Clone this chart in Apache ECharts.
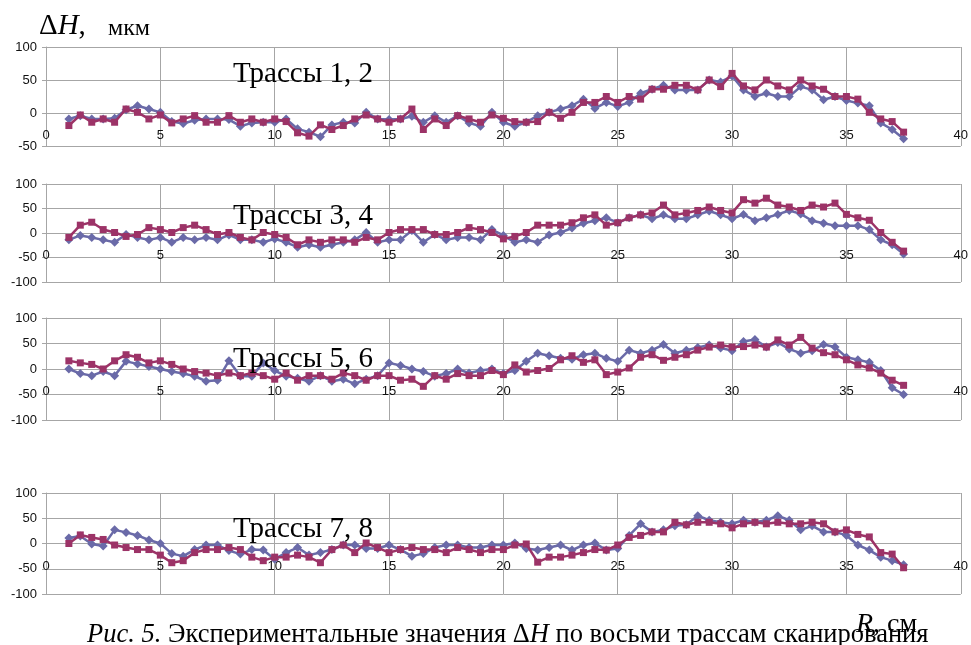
<!DOCTYPE html>
<html>
<head>
<meta charset="utf-8">
<script src="https://cdn.jsdelivr.net/npm/echarts@6/dist/echarts.min.js"></script>
<style>
html,body{margin:0;padding:0;background:#fff;}
#c{width:971px;height:645px;}
</style>
</head>
<body>
<div id="c"></div>
<script>
// Positions along the scan track, R (cm)
const R = [1,1.5,2,2.5,3,3.5,4,4.5,5,5.5,6,6.5,7,7.5,8,8.5,9,9.5,10,10.5,
  11,11.5,12,12.5,13,13.5,14,14.5,15,15.5,16,16.5,17,17.5,18,18.5,19,19.5,
  20,20.5,21,21.5,22,22.5,23,23.5,24,24.5,25,25.5,26,26.5,27,27.5,28,28.5,
  29,29.5,30,30.5,31,31.5,32,32.5,33,33.5,34,34.5,35,35.5,36,36.5,37,37.5];

// ΔH (мкм) for each track
const track1 = [-9,-4,-9,-9,-8,5,11,6,1,-13,-16,-11,-9,-9,-10,-20,-15,-14,-14,-9,-24,-29,-36,-18,-14,-15,1,-9,-10,-9,-5,-14,-4,-14,-4,-15,-20,1,
  -14,-20,-14,-4,1,6,11,21,7,16,10,16,30,36,42,35,35,35,50,47,56,35,25,30,25,25,40,35,20,25,19,15,11,-15,-25,-39];
const track2 = [-19,-3,-14,-9,-14,6,1,-9,-3,-15,-9,-4,-14,-14,-4,-14,-9,-14,-9,-13,-30,-35,-18,-25,-19,-9,-3,-9,-14,-9,6,-25,-9,-19,-4,-9,-14,-3,
  -8,-13,-14,-13,1,-8,1,16,16,25,16,25,21,36,36,42,42,35,50,40,60,41,35,50,41,35,50,41,36,25,25,21,1,-9,-13,-29];
const track3 = [-14,-5,-9,-14,-19,-3,-9,-14,-9,-19,-9,-14,-9,-14,-4,-14,-14,-19,-12,-19,-29,-24,-29,-24,-19,-14,1,-19,-14,-14,5,-19,-3,-14,-9,-9,-14,7,
  -5,-19,-14,-19,-4,1,10,20,25,31,21,31,37,29,37,29,29,37,45,37,29,38,25,31,38,46,39,25,20,15,15,15,7,-14,-24,-43];
const track4 = [-9,16,22,7,1,-7,-3,11,7,1,11,16,7,-3,1,-9,-14,1,-3,-9,-24,-14,-19,-14,-14,-19,-9,-14,1,7,7,7,-3,-3,1,11,7,1,
  -12,-7,1,16,16,16,21,31,37,16,21,31,37,41,57,37,41,46,53,46,41,68,61,71,57,53,46,57,53,61,38,31,26,1,-19,-37];
const track5 = [0,-9,-13,-5,-13,15,10,5,0,-5,-9,-14,-24,-22,16,-14,-14,12,-3,-14,-18,-24,-13,-24,-20,-29,-20,-13,12,7,0,-5,-14,-9,0,-8,-3,0,
  -9,-3,15,31,26,21,19,28,31,21,15,37,31,37,48,31,37,42,47,41,36,54,58,43,52,39,31,36,48,43,23,18,13,-3,-37,-50];
const track6 = [16,12,9,0,16,28,23,12,16,9,0,-5,-8,-13,-8,-13,-8,-13,-20,-8,-22,-13,-13,-20,-8,-13,-22,-13,-13,-22,-20,-34,-13,-20,-9,-13,-13,-3,
  -11,8,-6,-3,1,18,26,13,18,-11,-6,2,23,28,17,23,28,37,43,47,43,44,47,43,57,47,62,41,32,28,18,8,2,-8,-22,-32];
const track7 = [11,15,-1,-5,27,22,16,7,0,-20,-25,-12,-3,-3,-14,-21,-12,-13,-31,-18,-8,-23,-18,-12,-3,-3,-10,-10,-3,-12,-25,-20,-8,-3,-3,-8,-8,-3,
  -3,1,-10,-13,-8,-3,-13,-3,1,-13,-10,16,39,23,27,35,37,55,46,42,39,46,42,46,55,46,27,35,23,23,16,-3,-13,-27,-34,-42];
const track8 = [0,17,12,8,-3,-8,-12,-12,-23,-38,-34,-18,-12,-12,-8,-12,-27,-34,-27,-27,-23,-27,-38,-12,-3,-18,1,-8,-18,-12,-8,-12,-12,-18,-8,-12,-18,-12,
  -12,-3,-1,-37,-27,-27,-23,-18,-12,-13,-3,12,16,23,23,42,37,42,42,39,31,39,42,39,42,39,39,42,39,23,27,18,13,-18,-21,-48];

const panelTitles = ['Трассы 1, 2','Трассы 3, 4','Трассы 5, 6','Трассы 7, 8'];
const panelTracks = [[track1,track2],[track3,track4],[track5,track6],[track7,track8]];
const yMins = [-50,-100,-100,-100];
const yMaxs = [100,100,100,100];

const gridTops = [47,184,318,493];
const gridHeights = [99,98,102,101];
const titleTops = [55,197,340,510];

const BLUE = '#6a6aa8';
const MAG = '#9c3367';
const GRID = '#a6a6a6';
const serif = 'Liberation Serif';
const sans = 'Liberation Sans';

const grids = [], xAxes = [], yAxes = [], series = [], titles = [];
for (let p = 0; p < 4; p++) {
  grids.push({left:46, right:9, top:gridTops[p], height:gridHeights[p], containLabel:false});
  // x axis crosses the value axis at zero (Excel style)
  const zeroUp = gridHeights[p] * (0 - yMins[p]) / (yMaxs[p] - yMins[p]);
  xAxes.push({
    type:'value', gridIndex:p, min:0, max:40, interval:5,
    position:'bottom', offset:-zeroUp,
    axisLine:{show:true, onZero:false, lineStyle:{color:GRID, width:1}},
    axisTick:{show:false},
    axisLabel:{fontFamily:sans, fontSize:13, color:'#111', margin:16},
    splitLine:{show:true, lineStyle:{color:GRID, width:1}}
  });
  yAxes.push({
    type:'value', gridIndex:p, min:yMins[p], max:yMaxs[p], interval:50,
    axisLine:{show:true, onZero:false, lineStyle:{color:GRID, width:1}},
    axisTick:{show:true, length:4, lineStyle:{color:GRID}},
    axisLabel:{fontFamily:sans, fontSize:13, color:'#111', margin:9},
    splitLine:{show:true, lineStyle:{color:GRID, width:1}}
  });
  const [a, b] = panelTracks[p];
  series.push({
    type:'line', xAxisIndex:p, yAxisIndex:p,
    data:R.map((r,i)=>[r,a[i]]),
    symbol:'diamond', symbolSize:9, showSymbol:true,
    lineStyle:{color:BLUE, width:2.5}, itemStyle:{color:BLUE},
    z:3
  });
  series.push({
    type:'line', xAxisIndex:p, yAxisIndex:p,
    data:R.map((r,i)=>[r,b[i]]),
    symbol:'rect', symbolSize:7, showSymbol:true,
    lineStyle:{color:MAG, width:2.5}, itemStyle:{color:MAG},
    z:4
  });
  titles.push({
    text:panelTitles[p], left:228, top:titleTops[p],
    textStyle:{fontFamily:serif, fontSize:29, fontWeight:'normal', color:'#000', lineHeight:29}
  });
}

titles.push({
  text:'Δ{i|H},', left:34, top:7,
  textStyle:{fontFamily:serif, fontSize:29, fontWeight:'normal', color:'#000', lineHeight:29,
    rich:{i:{fontFamily:serif, fontStyle:'italic', fontSize:29, lineHeight:29, color:'#000'}}}
});
titles.push({
  text:'мкм', left:103, top:11.5,
  textStyle:{fontFamily:serif, fontSize:24, fontWeight:'normal', color:'#000', lineHeight:24}
});
titles.push({
  text:'{i|R}, см', left:851, top:606,
  textStyle:{fontFamily:serif, fontSize:28, fontWeight:'normal', color:'#000', lineHeight:28,
    rich:{i:{fontFamily:serif, fontStyle:'italic', fontSize:28, lineHeight:28, color:'#000'}}}
});
titles.push({
  text:'{i|Рис. 5.} Экспериментальные значения Δ{i|H} по восьми трассам сканирования', left:82, top:617,
  textStyle:{fontFamily:serif, fontSize:26.5, fontWeight:'normal', color:'#000', lineHeight:26.5,
    rich:{i:{fontFamily:serif, fontStyle:'italic', fontSize:26.5, lineHeight:26.5, color:'#000'}}}
});

const chart = echarts.init(document.getElementById('c'), null, {renderer:'canvas'});
chart.setOption({
  animation:false,
  backgroundColor:'#fff',
  title:titles,
  grid:grids,
  xAxis:xAxes,
  yAxis:yAxes,
  series:series
});
</script>
</body>
</html>
